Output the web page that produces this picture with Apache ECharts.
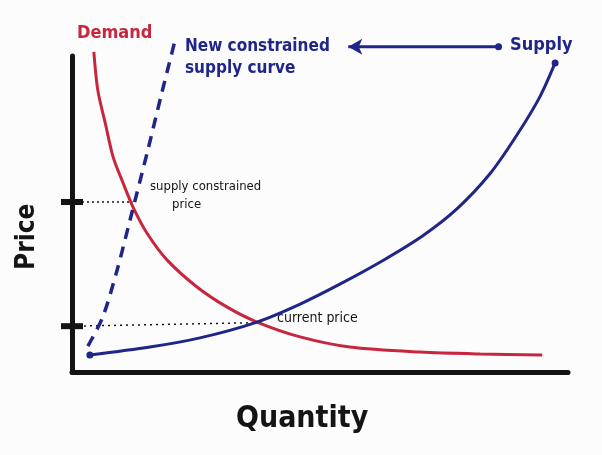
<!DOCTYPE html>
<html>
<head>
<meta charset="utf-8">
<script src="https://cdn.jsdelivr.net/npm/echarts@6/dist/echarts.min.js"></script>
<style>
html,body{margin:0;padding:0;background:#fdfcfd;}
#c{width:602px;height:455px;}
</style>
</head>
<body>
<div id="c"></div>
<script>
// Quantity (0-100) and Price (0-100) values
var supply = [[3.6,5.4],[15.7,7.9],[25.8,10.8],[37.3,15.8],[46.0,21.5],[54.0,27.8],[62.7,35.3],[70.8,43.2],[77.6,51.6],[84.3,62.8],[89.7,75.0],[94.3,87.0],[97.4,97.8]];
var demand = [[4.4,101.3],[5.2,89.2],[6.7,78.8],[8.3,68.0],[10.3,59.8],[12.3,52.2],[15.1,44.0],[19.2,35.4],[25.2,26.9],[31.2,20.6],[37.3,15.8],[46.0,11.1],[56.0,7.9],[70.2,6.3],[82.3,5.7],[94.8,5.4]];
var constrainedSupply = [[3.2,8.2],[6.2,17.4],[9.1,32.3],[11.7,48.1],[15.3,70.3],[18.1,88.3],[20.8,105.1]];
var priceLevels = [53.8, 14.5];
var constrainedPoint = [12.2, 53.8];
var currentPoint = [37.0, 15.6];
var arrowFrom = [86.0, 102.9];
var arrowTo = [55.7, 102.9];

var RED = '#c8263c', BLUE = '#1f2687', INK = '#141414';
var hand = "'DejaVu Sans Condensed', 'Liberation Sans Narrow', 'DejaVu Sans', sans-serif";

var chart = echarts.init(document.getElementById('c'));
chart.setOption({
  backgroundColor: '#fdfcfd',
  animation: false,
  grid: {left: 72, right: 34, top: 56, bottom: 83},
  xAxis: {type: 'value', min: 0, max: 100,
    axisLine: {lineStyle: {color: INK, width: 5, cap: 'round'}},
    axisTick: {show: false}, axisLabel: {show: false}, splitLine: {show: false}},
  yAxis: {type: 'value', min: 0, max: 100,
    axisLine: {show: true, lineStyle: {color: INK, width: 5, cap: 'round'}},
    axisTick: {show: false}, axisLabel: {show: false}, splitLine: {show: false}},
  series: [
    {type: 'line', name: 'dotted-constrained', data: [[0, priceLevels[0]], constrainedPoint], symbol: 'none', clip: false,
      lineStyle: {color: INK, width: 1.5, type: [2, 3]}, z: 1},
    {type: 'line', name: 'dotted-current', data: [[0, priceLevels[1]], currentPoint], symbol: 'none', clip: false,
      lineStyle: {color: INK, width: 1.5, type: [2, 4]}, z: 1},
    {type: 'line', name: 'Demand', data: demand, smooth: 0.3, symbol: 'none', clip: false,
      lineStyle: {color: RED, width: 3}, z: 3},
    {type: 'line', name: 'Supply', data: supply, smooth: 0.3, symbol: 'none', clip: false,
      lineStyle: {color: BLUE, width: 3}, z: 3,
      markPoint: {symbol: 'circle', symbolSize: 7, itemStyle: {color: BLUE}, label: {show: false},
        data: [{coord: supply[0]}, {coord: supply[supply.length - 1]}]}},
    {type: 'line', name: 'New constrained supply curve', data: constrainedSupply, smooth: 0.3, symbol: 'none', clip: false,
      lineStyle: {color: BLUE, width: 3.5, type: [11, 8]}, z: 3},
    {type: 'line', name: 'arrow', clip: false, showSymbol: true, showAllSymbol: true,
      lineStyle: {color: BLUE, width: 3}, itemStyle: {color: BLUE, borderWidth: 0}, z: 3,
      data: [
        {value: arrowFrom, symbol: 'circle', symbolSize: 7},
        {value: arrowTo, symbol: 'arrow', symbolSize: [12, 14], symbolRotate: 90, symbolOffset: [0, 0]}
      ]},
    {type: 'scatter', name: 'ticks', data: priceLevels.map(function (v) { return [0, v]; }), clip: false,
      symbol: 'rect', symbolSize: [22, 6], itemStyle: {color: INK, opacity: 1}, z: 4}
  ],
  graphic: [
    {type: 'text', left: 77, top: 24, style: {text: 'Demand', fill: RED, font: "bold 18px " + hand}},
    {type: 'text', left: 185, top: 36, style: {text: 'New constrained\nsupply curve', fill: BLUE, font: "bold 17px " + hand, lineHeight: 22}},
    {type: 'text', left: 510, top: 36, style: {text: 'Supply', fill: BLUE, font: "bold 18px " + hand}},
    {type: 'text', left: 150, top: 180, style: {text: 'supply constrained', fill: INK, font: "13px " + hand}},
    {type: 'text', left: 172, top: 198, style: {text: 'price', fill: INK, font: "13px " + hand}},
    {type: 'text', left: 277, top: 311, style: {text: 'current price', fill: INK, font: "14px " + hand}},
    {type: 'text', x: 14, y: 270, rotation: Math.PI / 2, style: {text: 'Price', fill: INK, font: "bold 26px " + hand}},
    {type: 'text', left: 236, top: 404, style: {text: 'Quantity', fill: INK, font: "bold 30px " + hand}}
  ]
});
</script>
</body>
</html>
